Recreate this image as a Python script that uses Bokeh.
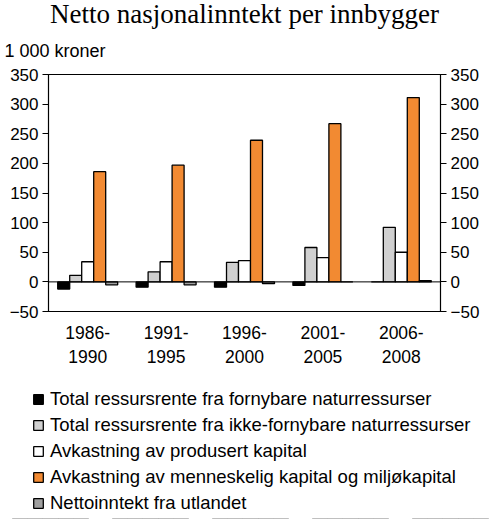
from bokeh.plotting import figure
from bokeh.layouts import column
from bokeh.models import (ColumnDataSource, FactorRange, LinearAxis, Range1d, Span,
                          Legend, LegendItem, Title, FixedTicker)
from bokeh.transform import dodge
from bokeh.embed import file_html
from bokeh.resources import INLINE

# values in 1 000 kroner
periods = ["1986-\n1990", "1991-\n1995", "1996-\n2000", "2001-\n2005", "2006-\n2008"]
fornybar = [-12, -9, -9, -6, 0]
ikke_fornybar = [11, 17, 33, 58, 92]
produsert = [34, 34, 36, 41, 50]
menneskelig = [186, 197, 239, 267, 311]
utlandet = [-5, -5, -3, 0, 2]
y_ticks = [-50, 0, 50, 100, 150, 200, 250, 300, 350]

series = [
    ("fornybar", "Total ressursrente fra fornybare naturressurser", "black"),
    ("ikke_fornybar", "Total ressursrente fra ikke-fornybare naturressurser", "#d0d0d0"),
    ("produsert", "Avkastning av produsert kapital", "white"),
    ("menneskelig", "Avkastning av menneskelig kapital og miljøkapital", "#f28a32"),
    ("utlandet", "Nettoinntekt fra utlandet", "#a0a0a0"),
]

source = ColumnDataSource(dict(period=periods, fornybar=fornybar, ikke_fornybar=ikke_fornybar,
                               produsert=produsert, menneskelig=menneskelig, utlandet=utlandet))

FONT = "Liberation Sans"
bw = 0.153

p = figure(width=500, height=372, x_range=FactorRange(*periods), y_range=Range1d(-50, 350),
           output_backend="svg", toolbar_location=None, frame_align=False,
           min_border_left=48, min_border_right=60, min_border_top=74, min_border_bottom=61)

for i, (col, label, color) in enumerate(series):
    p.vbar(x=dodge("period", (i - 2) * bw, range=p.x_range), top=col, width=bw,
           source=source, fill_color=color, line_color="black", line_width=1.3)

p.add_layout(Span(location=0, dimension="width", line_color="black", line_width=1))

p.xgrid.visible = False
p.ygrid.visible = False
p.outline_line_color = "black"
p.outline_line_width = 1.2

ticker = FixedTicker(ticks=y_ticks)
p.yaxis.ticker = ticker
right = LinearAxis(ticker=ticker)
p.add_layout(right, "right")
for ax in [p.yaxis[0], right]:
    ax.major_tick_out = 6
    ax.major_tick_in = 0
    ax.minor_tick_line_color = None
    ax.major_label_text_font = FONT
    ax.major_label_text_font_size = "17px"
    ax.major_label_text_color = "black"
    ax.major_label_standoff = 4
    ax.axis_line_color = "black"
    ax.major_tick_line_color = "black"

p.xaxis.major_tick_line_color = None
p.xaxis.minor_tick_line_color = None
p.xaxis.major_label_text_font = FONT
p.xaxis.major_label_text_font_size = "17.5px"
p.xaxis.major_label_text_color = "black"
p.xaxis.major_label_standoff = 5
p.xaxis.axis_line_color = "black"

p.add_layout(Title(text="1 000 kroner", align="left", offset=-44, standoff=28, text_font=FONT,
                   text_font_size="18px", text_font_style="normal", text_color="black"), "above")
p.add_layout(Title(text="Netto nasjonalinntekt per innbygger", align="center", offset=-6,
                   standoff=-8, text_font="Liberation Serif", text_font_size="27px",
                   text_font_style="normal", text_color="black"), "above")

# legend lives in its own strip under the chart; its bars sit just outside the visible range
leg = figure(width=500, height=147, x_range=p.x_range, y_range=Range1d(400, 500),
             x_axis_type=None, y_axis_type=None,
             output_backend="svg", toolbar_location=None, min_border=0, frame_align=False)
leg.outline_line_color = None
items = []
for i, (col, label, color) in enumerate(series):
    r = leg.vbar(x=dodge("period", (i - 2) * bw, range=leg.x_range), top=col, width=bw,
                 source=source, fill_color=color, line_color="black", line_width=1.3)
    items.append(LegendItem(label=label, renderers=[r]))

legend = Legend(items=items, location=(32, 5), orientation="vertical",
                label_text_font=FONT, label_text_font_size="18.5px", label_text_color="black",
                glyph_width=12, glyph_height=12, label_height=18, spacing=4,
                label_standoff=6, padding=0, margin=0,
                border_line_color=None, background_fill_alpha=0)
leg.add_layout(legend)

open("out.html", "w").write(file_html(column(p, leg), INLINE))
